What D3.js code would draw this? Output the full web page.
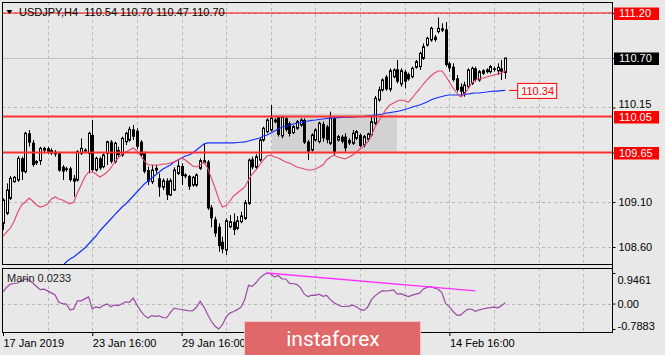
<!DOCTYPE html>
<html><head><meta charset="utf-8">
<script src="https://cdn.jsdelivr.net/npm/d3@7"></script>
<style>html,body{margin:0;padding:0;background:#e8e8e8;}svg{display:block;}</style>
</head><body><svg id="c" width="665" height="355"></svg>
<script>
const symbol = "USDJPY", timeframe = "H4";
const opens = [108.863,108.974,109.140,109.326,109.344,109.585,109.437,109.863,109.759,109.555,
109.559,109.677,109.696,109.677,109.659,109.640,109.492,109.474,109.474,109.363,
109.344,109.640,109.670,109.640,109.844,109.455,109.585,109.492,109.640,109.770,
109.548,109.677,109.622,109.770,109.788,109.907,109.892,109.770,109.640,109.455,
109.325,109.455,109.363,109.263,109.337,109.177,109.233,109.418,109.500,109.388,
109.388,109.288,109.288,109.474,109.537,109.548,109.040,108.907,108.825,108.659,
108.566,108.825,108.881,108.807,108.881,108.918,109.085,109.574,109.485,109.567,
109.789,109.882,109.900,109.993,110.041,109.834,110.030,109.974,109.871,109.919,
109.956,110.011,109.771,109.678,109.789,109.771,109.967,109.937,109.752,110.030,
109.789,109.826,109.826,109.789,109.752,109.808,109.845,109.734,109.797,109.845,
109.974,110.234,110.345,110.492,110.352,110.492,110.574,110.411,110.548,110.522,
110.492,110.596,110.604,110.696,110.844,110.900,110.937,110.993,111.030,111.018,
110.641,110.604,110.474,110.381,110.307,110.381,110.418,110.585,110.455,110.529,
110.548,110.548,110.585,110.559,110.585,110.540];
const highs = [109.140,109.307,109.389,109.389,109.611,109.603,109.881,109.900,109.789,109.566,
109.714,109.714,109.714,109.696,109.677,109.659,109.511,109.492,109.492,109.400,
109.677,109.807,109.696,109.881,110.011,109.603,109.603,109.640,109.781,109.789,
109.770,109.714,109.826,109.881,109.937,109.955,109.918,109.788,109.659,109.492,
109.511,109.511,109.418,109.363,109.363,109.363,109.485,109.566,109.529,109.418,
109.400,109.388,109.418,109.585,109.751,109.566,109.066,108.937,108.863,108.714,
108.918,108.955,108.974,108.944,108.992,109.122,109.585,109.603,109.630,109.819,
109.937,110.030,110.178,110.030,110.056,110.056,110.048,109.993,109.956,110.011,
110.030,110.030,109.789,109.863,109.919,109.993,109.993,109.956,110.104,110.048,
109.845,109.845,109.863,109.808,109.900,109.900,109.863,109.845,109.871,110.048,
110.278,110.382,110.474,110.511,110.585,110.585,110.678,110.585,110.567,110.537,
110.604,110.678,110.770,110.863,110.937,111.048,110.956,111.150,111.085,111.100,
110.659,110.641,110.511,110.418,110.437,110.585,110.604,110.604,110.567,110.574,
110.585,110.622,110.604,110.641,110.678,110.700];
const lows = [108.789,108.955,109.122,109.314,109.326,109.344,109.418,109.714,109.492,109.511,
109.511,109.640,109.633,109.622,109.603,109.437,109.344,109.437,109.326,109.159,
109.326,109.622,109.648,109.418,109.437,109.437,109.455,109.474,109.511,109.529,
109.529,109.603,109.603,109.733,109.770,109.788,109.685,109.603,109.418,109.288,
109.300,109.418,109.159,109.233,109.122,109.166,109.225,109.400,109.288,109.363,
109.233,109.270,109.270,109.455,109.522,109.011,108.818,108.714,108.548,108.529,
108.511,108.807,108.733,108.788,108.863,108.900,109.066,109.463,109.460,109.548,
109.770,109.863,109.882,109.974,109.826,109.808,109.882,109.826,109.856,109.900,
109.937,109.745,109.567,109.659,109.771,109.752,109.771,109.752,109.734,109.622,
109.771,109.752,109.659,109.734,109.734,109.789,109.708,109.708,109.771,109.826,
109.956,110.215,110.326,110.337,110.326,110.474,110.418,110.381,110.363,110.448,
110.474,110.581,110.567,110.678,110.826,110.881,110.881,110.974,110.989,110.604,
110.548,110.437,110.326,110.270,110.270,110.363,110.400,110.437,110.437,110.511,
110.529,110.529,110.548,110.511,110.455,110.470];
const closes = [109.122,109.233,109.363,109.374,109.585,109.437,109.863,109.759,109.511,109.529,
109.696,109.696,109.659,109.640,109.629,109.448,109.437,109.455,109.344,109.326,
109.659,109.696,109.677,109.863,109.455,109.585,109.474,109.622,109.770,109.548,
109.752,109.622,109.807,109.863,109.907,109.825,109.714,109.622,109.437,109.325,
109.455,109.474,109.263,109.337,109.177,109.337,109.455,109.500,109.388,109.400,
109.270,109.374,109.400,109.559,109.559,109.029,108.918,108.751,108.611,108.574,
108.892,108.881,108.788,108.892,108.944,109.092,109.566,109.485,109.604,109.789,
109.919,110.011,110.030,110.011,109.845,110.041,109.900,109.856,109.937,109.993,
110.011,109.760,109.659,109.845,109.900,109.974,109.808,109.789,110.030,109.641,
109.826,109.771,109.696,109.752,109.863,109.882,109.722,109.826,109.856,109.993,
110.252,110.345,110.456,110.352,110.559,110.567,110.437,110.559,110.437,110.463,
110.585,110.659,110.752,110.826,110.918,111.030,110.900,111.030,111.004,110.622,
110.585,110.455,110.344,110.326,110.400,110.567,110.585,110.455,110.548,110.559,
110.567,110.604,110.567,110.596,110.548,110.700];
const maFast = [108.722,108.767,108.811,108.889,108.989,109.067,109.100,109.144,109.111,109.067,
109.044,109.056,109.078,109.133,109.156,109.133,109.122,109.100,109.078,109.100,
109.200,109.289,109.378,109.433,109.433,109.411,109.378,109.400,109.433,109.478,
109.544,109.589,109.633,109.656,109.678,109.700,109.667,109.611,109.556,109.511,
109.511,109.511,109.511,109.522,109.522,109.533,109.544,109.567,109.589,109.567,
109.533,109.500,109.489,109.511,109.544,109.478,109.368,109.256,109.133,109.044,
109.060,109.111,109.167,109.200,109.233,109.267,109.344,109.411,109.456,109.511,
109.567,109.611,109.622,109.600,109.589,109.567,109.544,109.533,109.511,109.489,
109.478,109.467,109.456,109.456,109.467,109.489,109.511,109.567,109.600,109.622,
109.600,109.589,109.578,109.600,109.622,109.656,109.689,109.722,109.767,109.833,
109.933,110.000,110.067,110.133,110.178,110.200,110.222,110.233,110.222,110.211,
110.256,110.311,110.356,110.411,110.456,110.500,110.533,110.556,110.556,110.500,
110.433,110.367,110.311,110.267,110.300,110.356,110.422,110.456,110.467,110.478,
110.489,110.500,110.511,110.522,110.533,110.556];
const maSlow = [null,null,null,null,null,null,null,null,null,null,
null,null,null,null,null,108.344,108.389,108.433,108.467,108.489,
108.522,108.556,108.589,108.633,108.678,108.722,108.778,108.822,108.867,108.911,
108.956,109.000,109.044,109.078,109.122,109.167,109.211,109.256,109.300,109.333,
109.367,109.400,109.433,109.467,109.489,109.511,109.544,109.567,109.589,109.611,
109.622,109.644,109.678,109.711,109.744,109.756,109.756,109.756,109.756,109.756,
109.756,109.756,109.758,109.761,109.764,109.767,109.778,109.789,109.800,109.811,
109.833,109.844,109.867,109.889,109.911,109.933,109.944,109.956,109.967,109.978,
109.983,109.989,110.000,110.006,110.011,110.017,110.022,110.028,110.033,110.036,
110.038,110.040,110.042,110.044,110.044,110.047,110.049,110.052,110.056,110.061,
110.067,110.072,110.078,110.089,110.094,110.100,110.106,110.117,110.128,110.139,
110.156,110.167,110.178,110.194,110.211,110.233,110.250,110.261,110.272,110.283,
110.289,110.289,110.289,110.289,110.294,110.300,110.306,110.311,110.311,110.317,
110.322,110.328,110.331,110.333,110.337,110.340];
const oscName = "Marin";
const osc = [0.364,0.506,0.601,0.620,0.635,0.706,0.761,0.730,0.638,0.530,
0.429,0.447,0.392,0.330,0.268,0.037,0.000,-0.015,-0.194,-0.172,
0.084,0.084,0.145,0.207,-0.163,-0.101,-0.132,-0.055,-0.009,-0.101,
-0.046,-0.064,-0.006,0.053,0.037,0.167,-0.040,-0.225,-0.366,-0.450,
-0.373,-0.394,-0.379,-0.434,-0.440,-0.271,-0.141,-0.169,-0.185,-0.203,
-0.231,-0.218,-0.117,0.068,-0.101,-0.342,-0.548,-0.702,-0.7883,-0.656,
-0.409,-0.296,-0.246,-0.188,-0.111,0.130,0.564,0.530,0.644,0.786,
0.885,0.9461,0.915,0.823,0.869,0.761,0.761,0.626,0.613,0.592,
0.484,0.290,0.213,0.259,0.253,0.290,0.225,0.250,0.120,0.025,
-0.040,-0.092,-0.092,-0.080,-0.049,-0.101,-0.182,-0.212,-0.117,0.114,
0.238,0.327,0.398,0.388,0.398,0.425,0.290,0.305,0.253,0.213,
0.259,0.290,0.321,0.453,0.499,0.521,0.475,0.444,0.330,-0.003,
-0.101,-0.246,-0.357,-0.360,-0.255,-0.169,-0.178,-0.240,-0.194,-0.169,
-0.144,-0.129,-0.111,-0.132,-0.071,0.0233];
const priceTicks = [108.60, 109.10, 109.65, 110.15, 110.70, 111.20];
const levels = [111.20, 110.05, 109.65];
const oscTicks = [0.9461, 0.00, -0.7883];
const dateBars = [0, 24, 48, 120];
const dateTexts = ["17 Jan 2019", "23 Jan 16:00", "29 Jan 16:00", "14 Feb 16:00"];
const zoneBars = [72.3, 105.9];
const zonePrices = [110.08, 109.66];
const trendBars = [71, 127];
const trendVals = [0.9461, 0.392];
const logoText = "instaforex";

const n = closes.length;
const FONT = "Liberation Sans, Arial, sans-serif";
const svg = d3.select("#c");
const L = 2, R = 613, mTop = 2, mBot = 265, oTop = 268, oBot = 333;

const x = d3.scaleLinear().domain([0, 135]).range([3, 505.2]);
const y = d3.scaleLinear().domain([108.60, 111.20]).range([247, 13]);
const yo = d3.scaleLinear().domain([-0.7883, 0.9461]).range([329, 273]);

svg.append("rect").attr("width", 665).attr("height", 355).attr("fill", "#e8e8e8");
const defs = svg.append("defs");
defs.append("clipPath").attr("id", "cm").append("rect").attr("x", L).attr("y", mTop).attr("width", R - L).attr("height", mBot - mTop);
defs.append("clipPath").attr("id", "co").append("rect").attr("x", L).attr("y", oTop).attr("width", R - L).attr("height", oBot - oTop);

const gm = svg.append("g").attr("clip-path", "url(#cm)");
const go = svg.append("g").attr("clip-path", "url(#co)");

// grid
const gridBars = d3.range(12, 160, 12);
[gm, go].forEach((g, k) => {
  g.selectAll(null).data(gridBars).join("line")
    .attr("x1", d => Math.round(x(d)) + 0.5).attr("x2", d => Math.round(x(d)) + 0.5)
    .attr("y1", k ? oTop : mTop).attr("y2", k ? oBot : mBot)
    .attr("stroke", "#b8b8b8").attr("stroke-dasharray", "3,3");
});
gm.selectAll(null).data(priceTicks).join("line")
  .attr("x1", L).attr("x2", R).attr("y1", d => Math.round(y(d)) + 0.5).attr("y2", d => Math.round(y(d)) + 0.5)
  .attr("stroke", "#b8b8b8").attr("stroke-dasharray", "3,3");
go.append("line").attr("x1", L).attr("x2", R).attr("y1", Math.round(yo(0)) + 0.5).attr("y2", Math.round(yo(0)) + 0.5)
  .attr("stroke", "#b8b8b8").attr("stroke-dasharray", "3,3");

// zone
gm.append("rect").attr("x", x(zoneBars[0])).attr("width", x(zoneBars[1]) - x(zoneBars[0]))
  .attr("y", y(zonePrices[0])).attr("height", y(zonePrices[1]) - y(zonePrices[0])).attr("fill", "#d2d2d2");

// current price line
const last = closes[n - 1];
gm.append("line").attr("x1", L).attr("x2", R).attr("y1", Math.round(y(last)) + 0.5).attr("y2", Math.round(y(last)) + 0.5)
  .attr("stroke", "#c4c4c4");

// title
const title = svg.append("g");
title.append("path").attr("d", "M6.5,10 L12.5,10 L9.5,14 Z").attr("fill", "#000");
const f2 = d3.format(".2f");
title.append("text").attr("x", 19).attr("y", 16).attr("font-family", FONT).attr("font-size", 11).attr("fill", "#000")
  .style("white-space", "pre")
  .text(`${symbol},${timeframe}  ${f2(opens[n-1])} ${f2(highs[n-1])} ${f2(lows[n-1])} ${f2(closes[n-1])}`);

// candles
const cg = gm.append("g");
d3.range(n).forEach(i => {
  const xr = Math.round(x(i));
  cg.append("line").attr("x1", xr + 0.5).attr("x2", xr + 0.5)
    .attr("y1", y(highs[i])).attr("y2", y(lows[i])).attr("stroke", "#000").attr("stroke-width", 1);
  const top = y(Math.max(opens[i], closes[i])), bot = y(Math.min(opens[i], closes[i]));
  const h = Math.max(1, bot - top);
  if (closes[i] >= opens[i]) {
    cg.append("rect").attr("x", xr - 0.5).attr("width", 2).attr("y", top).attr("height", h)
      .attr("fill", "#fff").attr("stroke", "#000").attr("stroke-width", 1);
  } else {
    cg.append("rect").attr("x", xr - 1).attr("width", 3).attr("y", top).attr("height", h).attr("fill", "#000");
  }
});

// moving averages
const lineP = d3.line().defined(d => d != null).x((d, i) => x(i)).y(d => y(d));
gm.append("path").attr("d", lineP(maSlow)).attr("fill", "none").attr("stroke", "#1530ff").attr("stroke-width", 1.2);
gm.append("path").attr("d", lineP(maFast)).attr("fill", "none").attr("stroke", "#e6466a").attr("stroke-width", 1.1);

// levels
levels.forEach((v, k) => {
  gm.append("line").attr("x1", L).attr("x2", R).attr("y1", y(v)).attr("y2", y(v))
    .attr("stroke", k === 0 ? "#ff0000" : "#ff3030").attr("stroke-width", k === 0 ? 1 : 1.8);
});

// MA value label
const maLast = maSlow[n - 1];
const lx = x(n - 1);
svg.append("line").attr("x1", lx + 4).attr("x2", lx + 12).attr("y1", y(maLast)).attr("y2", y(maLast)).attr("stroke", "#ff0000");
svg.append("rect").attr("x", lx + 12.5).attr("y", y(maLast) - 7).attr("width", 39).attr("height", 15)
  .attr("fill", "#f6f6f6").attr("stroke", "#ff0000");
svg.append("text").attr("x", lx + 16).attr("y", y(maLast) + 4.5).attr("font-family", FONT).attr("font-size", 11)
  .attr("fill", "#ff0000").text(f2(maLast));

// oscillator
go.append("path").attr("d", d3.line().x((d, i) => x(i)).y(d => yo(d))(osc))
  .attr("fill", "none").attr("stroke", "#9a4aa4").attr("stroke-width", 1.2);
go.append("line").attr("x1", x(trendBars[0])).attr("x2", x(trendBars[1]))
  .attr("y1", yo(trendVals[0])).attr("y2", yo(trendVals[1])).attr("stroke", "#ff30ff").attr("stroke-width", 1.4);
svg.append("text").attr("x", 7).attr("y", 282).attr("font-family", FONT).attr("font-size", 11).attr("fill", "#222")
  .text(`${oscName} ${d3.format(".4f")(osc[n - 1])}`);

// frames
svg.append("rect").attr("x", L + 0.5).attr("y", mTop + 0.5).attr("width", R - L - 1).attr("height", mBot - mTop - 1)
  .attr("fill", "none").attr("stroke", "#000");
svg.append("rect").attr("x", L + 0.5).attr("y", oTop + 0.5).attr("width", R - L - 1).attr("height", oBot - oTop - 1)
  .attr("fill", "none").attr("stroke", "#000");

// right price axis
const gy = svg.append("g").attr("transform", `translate(${R - 0.5},0)`)
  .call(d3.axisRight(y).tickValues(priceTicks).tickSize(3).tickPadding(3).tickFormat(f2));
gy.select(".domain").remove();
gy.selectAll("line").attr("stroke", "#000");
gy.selectAll("text").attr("font-family", FONT).attr("font-size", 11).attr("fill", "#000")
  .attr("dy", d => d === 110.15 ? "0.02em" : "0.32em");

const boxes = levels.map(v => ({ v, bg: "#ff0000" })).concat([{ v: last, bg: "#000" }]);
boxes.forEach(b => {
  svg.append("rect").attr("x", R + 1).attr("y", y(b.v) - 5.5).attr("width", 45).attr("height", 12.5).attr("fill", b.bg);
  svg.append("text").attr("x", R + 6).attr("y", y(b.v) + 4).attr("font-family", FONT).attr("font-size", 11)
    .attr("fill", "#fff").text(f2(b.v));
});

// oscillator axis
const go2 = svg.append("g").attr("transform", `translate(${R - 0.5},0)`)
  .call(d3.axisRight(yo).tickValues(oscTicks).tickSize(3).tickPadding(2).tickFormat(d => d === 0 ? "0.00" : String(d)));
go2.select(".domain").remove();
go2.selectAll("line").attr("stroke", "#000");
go2.selectAll("text").attr("font-family", FONT).attr("font-size", 11).attr("fill", "#000")
  .attr("dy", (d, i) => i === 0 ? "0.95em" : (i === 2 ? "0.05em" : "0.32em"));

// date axis
const gx = svg.append("g").attr("transform", `translate(0,${oBot})`)
  .call(d3.axisBottom(x).tickValues(dateBars).tickSize(3).tickPadding(3).tickFormat((d, i) => dateTexts[i]));
gx.select(".domain").remove();
gx.selectAll("line").attr("stroke", "#000");
gx.selectAll("text").attr("font-family", FONT).attr("font-size", 11).attr("fill", "#000").attr("text-anchor", "start");

// vertical right border
svg.append("line").attr("x1", R - 0.5).attr("x2", R - 0.5).attr("y1", mTop).attr("y2", oBot).attr("stroke", "#000");

// logo
svg.append("rect").attr("x", 244.5).attr("y", 321.5).attr("width", 176).attr("height", 40)
  .attr("fill", "#e06868").attr("stroke", "#f4c4c4").attr("stroke-width", 1);
svg.append("text").attr("x", 333).attr("y", 346).attr("text-anchor", "middle").attr("font-family", "Roboto, sans-serif")
  .attr("font-size", 21).attr("fill", "#fff").text(logoText);
</script></body></html>
